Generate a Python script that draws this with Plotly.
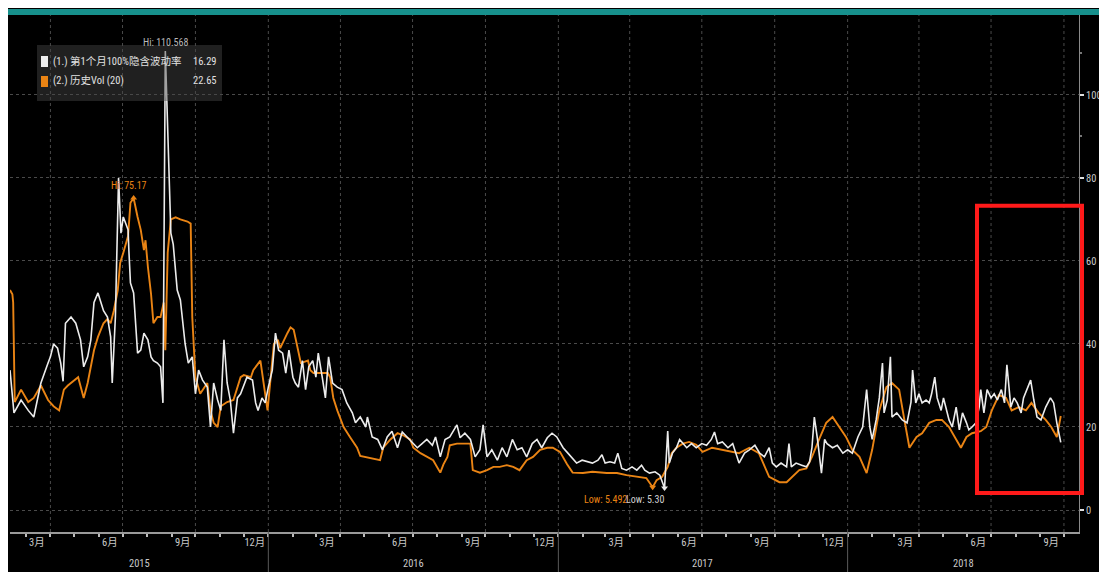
import plotly.graph_objects as go
import pandas as pd

# ---------------- data ----------------
iv_name = "(1.) 第1个月100%隐含波动率"
hv_name = "(2.) 历史Vol (20)"
iv_last = "16.29"
hv_last = "22.65"

iv_dates = [
 "2015-02-09","2015-02-14","2015-02-23","2015-03-04","2015-03-11","2015-03-20","2015-03-29","2015-04-01","2015-04-05","2015-04-10",
 "2015-04-14","2015-04-17","2015-04-20","2015-04-27","2015-05-03","2015-05-09","2015-05-13","2015-05-18","2015-05-22","2015-05-26",
 "2015-05-31","2015-06-04","2015-06-07","2015-06-12","2015-06-16","2015-06-18","2015-06-22","2015-06-26","2015-06-29","2015-07-02",
 "2015-07-08","2015-07-09","2015-07-11","2015-07-15","2015-07-18","2015-07-20","2015-07-24","2015-07-28","2015-08-02","2015-08-06",
 "2015-08-09","2015-08-14","2015-08-18","2015-08-21","2015-08-24","2015-08-31","2015-09-03","2015-09-08","2015-09-12","2015-09-16",
 "2015-09-18","2015-09-22","2015-09-27","2015-10-01","2015-10-05","2015-10-10","2015-10-16","2015-10-20","2015-10-24","2015-10-29",
 "2015-11-02","2015-11-06","2015-11-10","2015-11-14","2015-11-18","2015-11-23","2015-11-27","2015-12-05","2015-12-12","2015-12-16",
 "2015-12-19","2015-12-24","2015-12-28","2016-01-01","2016-01-06","2016-01-10","2016-01-14","2016-01-19","2016-01-23","2016-01-27",
 "2016-02-01","2016-02-04","2016-02-08","2016-02-13","2016-02-17","2016-02-21","2016-02-26","2016-03-01","2016-03-04","2016-03-09",
 "2016-03-13","2016-03-17","2016-03-22","2016-03-28","2016-04-03","2016-04-09","2016-04-16","2016-04-20","2016-04-26","2016-05-03",
 "2016-05-05","2016-05-11","2016-05-18","2016-05-24","2016-05-30","2016-06-05","2016-06-12","2016-06-18","2016-06-24","2016-07-01",
 "2016-07-07","2016-07-13","2016-07-19","2016-07-26","2016-07-30","2016-08-05","2016-08-11","2016-08-17","2016-08-21","2016-08-26",
 "2016-08-30","2016-09-05","2016-09-12","2016-09-18","2016-09-24","2016-09-28","2016-10-03","2016-10-09","2016-10-16","2016-10-22",
 "2016-10-28","2016-11-04","2016-11-10","2016-11-16","2016-11-22","2016-11-29","2016-12-05","2016-12-11","2016-12-18","2016-12-24",
 "2016-12-30","2017-01-07","2017-01-13","2017-01-19","2017-01-24","2017-01-31","2017-02-06","2017-02-13","2017-02-20","2017-02-25",
 "2017-03-01","2017-03-07","2017-03-13","2017-03-17","2017-03-22","2017-03-28","2017-04-04","2017-04-10","2017-04-16","2017-04-20",
 "2017-04-26","2017-05-03","2017-05-09","2017-05-15","2017-05-19","2017-05-21","2017-05-25","2017-05-30","2017-06-03","2017-06-12",
 "2017-06-18","2017-06-24","2017-07-01","2017-07-07","2017-07-13","2017-07-17","2017-07-21","2017-07-27","2017-08-03","2017-08-09",
 "2017-08-17","2017-08-24","2017-08-30","2017-09-06","2017-09-12","2017-09-18","2017-09-24","2017-09-28","2017-10-03","2017-10-09",
 "2017-10-16","2017-10-19","2017-10-22","2017-10-28","2017-11-04","2017-11-10","2017-11-14","2017-11-17","2017-11-20","2017-11-24",
 "2017-11-29","2017-12-03","2017-12-06","2017-12-13","2017-12-19","2017-12-26","2018-01-01","2018-01-07","2018-01-14","2018-01-20",
 "2018-01-25","2018-01-29","2018-02-01","2018-02-06","2018-02-10","2018-02-14","2018-02-16","2018-02-20","2018-02-24","2018-02-26",
 "2018-03-04","2018-03-11","2018-03-17","2018-03-22","2018-03-24","2018-03-28","2018-04-01","2018-04-05","2018-04-10","2018-04-14",
 "2018-04-17","2018-04-21","2018-04-24","2018-04-29","2018-05-02","2018-05-05","2018-05-09","2018-05-13","2018-05-18","2018-05-22",
 "2018-05-26","2018-05-31","2018-06-03","2018-06-07","2018-06-12","2018-06-16","2018-06-18","2018-06-22","2018-06-26","2018-07-01",
 "2018-07-05","2018-07-09","2018-07-14","2018-07-18","2018-07-21","2018-07-26","2018-07-30","2018-08-03","2018-08-08","2018-08-11",
 "2018-08-15","2018-08-20","2018-08-24","2018-08-28","2018-09-02","2018-09-08","2018-09-14","2018-09-18","2018-09-22","2018-09-27",
]
iv_values = [
 33.7,23.4,26.5,24.0,22.4,30.6,35.4,36.9,40.0,39.0,
 35.4,31.0,45.0,46.5,45.0,41.0,34.5,36.9,41.0,50.0,
 52.3,50.0,48.0,46.5,41.7,30.6,46.5,80.0,66.7,70.6,
 67.5,62.6,54.7,52.3,41.7,37.8,38.5,42.6,41.0,36.9,
 36.0,35.4,34.5,25.8,110.568,66.7,64.0,53.0,50.6,43.4,
 40.0,35.4,36.9,28.0,33.7,31.3,29.6,20.0,30.6,26.5,
 24.0,41.0,30.6,26.5,18.5,27.0,28.0,32.0,31.3,25.8,
 24.0,27.0,25.8,29.6,33.7,42.6,38.5,37.8,33.0,38.5,
 32.0,30.6,29.6,36.0,29.0,34.5,36.0,32.0,37.8,32.0,
 27.0,36.9,30.6,29.6,29.0,25.8,23.4,21.0,22.4,20.0,
 22.4,17.6,17.0,14.5,17.6,19.0,15.0,18.8,17.6,16.0,
 15.0,16.0,17.0,15.6,17.6,12.8,17.0,17.6,19.0,20.5,
 17.4,18.5,17.0,12.8,14.5,20.5,12.8,14.5,12.0,15.0,
 12.8,17.0,14.5,15.0,12.8,16.0,17.0,15.0,17.4,18.5,
 17.6,15.0,13.7,12.5,11.3,12.0,11.6,11.3,12.0,13.3,
 11.3,11.6,11.3,13.7,10.0,9.6,10.4,9.6,10.8,9.6,
 8.9,9.2,8.4,5.30,19.0,11.3,13.7,15.0,17.0,15.0,
 16.0,15.0,16.0,15.6,17.0,18.8,16.0,16.4,15.0,16.0,
 11.3,13.7,14.5,15.6,13.7,12.8,15.0,11.3,10.4,11.3,
 10.4,16.0,10.4,11.3,10.8,10.4,11.6,15.0,22.4,17.0,
 8.9,17.0,16.0,15.0,15.6,13.7,14.5,13.7,17.6,20.0,
 29.0,20.0,17.0,21.7,27.0,35.4,23.4,26.5,36.9,22.4,
 23.4,21.7,21.0,26.0,33.7,25.8,28.0,25.8,26.5,25.8,
 28.0,32.0,27.0,24.0,27.0,24.8,21.7,20.0,24.8,19.3,
 23.4,21.0,19.3,20.0,21.0,24.8,29.0,23.4,29.0,27.0,
 28.0,26.5,29.0,25.8,35.0,24.8,27.0,25.8,23.4,27.0,
 29.0,31.3,26.5,22.4,21.7,24.8,27.0,25.8,21.0,16.29,
]

hv_dates = [
 "2015-02-09","2015-02-12","2015-02-13","2015-02-15","2015-02-23","2015-03-04","2015-03-11","2015-03-20","2015-03-29","2015-04-05",
 "2015-04-12","2015-04-18","2015-04-23","2015-04-30","2015-05-06","2015-05-13","2015-05-18","2015-05-26","2015-05-31","2015-06-07",
 "2015-06-12","2015-06-16","2015-06-20","2015-06-25","2015-06-28","2015-07-02","2015-07-08","2015-07-11","2015-07-15","2015-07-20",
 "2015-07-24","2015-07-28","2015-07-30","2015-08-02","2015-08-06","2015-08-09","2015-08-14","2015-08-18","2015-08-22","2015-08-24",
 "2015-08-27","2015-08-31","2015-09-06","2015-09-12","2015-09-21","2015-09-25","2015-09-27","2015-10-01","2015-10-04","2015-10-07",
 "2015-10-16","2015-10-20","2015-10-24","2015-10-29","2015-11-02","2015-11-10","2015-11-18","2015-11-27","2015-12-01","2015-12-10",
 "2015-12-13","2015-12-22","2015-12-26","2015-12-31","2016-01-04","2016-01-08","2016-01-13","2016-01-16","2016-01-25","2016-01-29",
 "2016-02-02","2016-02-07","2016-02-11","2016-02-20","2016-02-23","2016-02-27","2016-03-07","2016-03-16","2016-03-19","2016-03-23",
 "2016-03-28","2016-04-05","2016-04-13","2016-04-22","2016-04-26","2016-05-08","2016-05-21","2016-05-25","2016-06-03","2016-06-12",
 "2016-06-19","2016-06-28","2016-07-02","2016-07-11","2016-07-19","2016-07-27","2016-08-05","2016-08-09","2016-08-14","2016-08-17",
 "2016-08-26","2016-09-03","2016-09-12","2016-09-15","2016-09-24","2016-10-03","2016-10-11","2016-10-19","2016-10-28","2016-11-05",
 "2016-11-13","2016-11-22","2016-11-30","2016-12-09","2016-12-18","2016-12-25","2017-01-03","2017-01-12","2017-01-19","2017-02-01",
 "2017-02-13","2017-03-03","2017-03-16","2017-03-28","2017-04-10","2017-04-22","2017-04-30","2017-05-05","2017-05-12","2017-05-19",
 "2017-05-24","2017-05-30","2017-06-07","2017-06-15","2017-06-24","2017-07-02","2017-07-14","2017-07-27","2017-08-09","2017-08-17",
 "2017-08-30","2017-09-11","2017-09-24","2017-10-07","2017-10-16","2017-10-23","2017-11-01","2017-11-10","2017-11-17","2017-11-26",
 "2017-12-05","2017-12-13","2017-12-21","2017-12-30","2018-01-07","2018-01-16","2018-01-25","2018-02-01","2018-02-10","2018-02-19",
 "2018-02-26","2018-03-07","2018-03-13","2018-03-20","2018-03-29","2018-04-05","2018-04-14","2018-04-23","2018-04-30","2018-05-09",
 "2018-05-18","2018-05-24","2018-05-31","2018-06-07","2018-06-18","2018-06-25","2018-07-02","2018-07-11","2018-07-20","2018-07-27",
 "2018-08-05","2018-08-14","2018-08-21","2018-08-30","2018-09-08","2018-09-15","2018-09-22","2018-09-27",
]
hv_values = [
 53.0,52.0,50.0,26.0,29.0,26.0,27.0,30.0,26.5,25.0,
 24.0,29.0,30.0,31.0,32.0,27.0,30.6,38.5,41.7,45.0,
 46.0,45.0,48.0,53.0,59.5,62.0,66.0,74.0,75.17,70.6,
 67.5,62.6,65.0,58.6,52.0,45.0,46.5,46.5,50.0,38.5,
 62.0,70.0,70.5,70.0,69.5,69.0,46.5,32.0,30.0,28.0,
 30.6,24.0,21.0,20.0,25.0,26.0,26.5,32.0,32.5,32.0,
 33.7,36.0,30.6,24.0,32.0,40.0,41.0,39.0,42.6,44.0,
 43.4,38.5,35.4,36.0,33.7,33.0,33.0,33.0,32.0,27.0,
 24.0,20.0,17.6,15.0,13.0,12.5,12.0,15.0,17.0,18.5,
 18.0,17.0,15.0,13.7,12.8,12.0,9.0,11.0,12.8,15.6,
 16.0,16.0,16.0,9.6,9.0,9.6,10.4,10.4,10.8,10.4,
 9.6,12.0,12.8,14.5,15.0,15.0,14.0,11.0,9.0,8.9,
 9.2,8.9,8.9,8.4,8.0,7.7,5.492,7.2,8.0,10.4,
 13.7,15.0,16.0,16.4,15.7,14.0,15.0,14.5,14.0,13.7,
 15.0,13.7,8.0,6.7,6.7,8.0,9.6,10.0,12.8,17.0,
 21.0,22.4,20.0,17.6,14.5,12.8,8.9,14.5,24.0,29.6,
 30.6,29.0,22.4,15.0,17.6,18.5,21.0,21.7,21.7,20.0,
 17.0,15.0,17.6,18.5,19.0,20.0,24.0,27.7,27.0,24.0,
 24.8,24.0,25.8,23.4,21.7,20.0,17.6,22.65,
]

month_labels = ["3月", "6月", "9月", "12月"]
year_labels = ["2015", "2016", "2017", "2018"]
y_ticks = [0, 20, 40, 60, 80, 100]
x_start, x_end = "2015-02-09", "2018-10-20"
y_lo, y_hi = -5.3, 119.5

# ---------------- styling ----------------
# the page body adds an 8px offset; work in window-pixel coordinates
OFF = 8
W, H = 1107 - OFF, 572 - OFF
L, R, T, B = 10 - OFF, 1107 - 1079, 14 - OFF, 572 - 532
PW, PH = W - L - R, H - T - B
def px(sx):  # window pixel x -> paper x
    return (sx - OFF - L) / PW
def py(sy):  # window pixel y -> paper y
    return (H - B - (sy - OFF)) / PH

FONT = "Liberation Sans Narrow, Arial Narrow, Roboto Condensed, Noto Sans CJK SC, sans-serif"
WHITE = "#ececec"
ORANGE = "#ea8414"
GRID = "#4a4a4a"
TXT = "#c8c8c8"

fig = go.Figure()
fig.add_trace(go.Scatter(x=pd.to_datetime(hv_dates), y=hv_values, mode="lines",
                         line=dict(color=ORANGE, width=1.9), name=hv_name, hoverinfo="skip"))
fig.add_trace(go.Scatter(x=pd.to_datetime(iv_dates), y=iv_values, mode="lines",
                         line=dict(color=WHITE, width=1.6), name=iv_name, hoverinfo="skip"))

# hi / low markers from the data
def extreme(dates, vals, fn):
    i = vals.index(fn(vals))
    return dates[i], vals[i]
iv_hi = extreme(iv_dates, iv_values, max)
iv_lo = extreme(iv_dates, iv_values, min)
hv_hi = extreme(hv_dates, hv_values, max)
hv_lo = extreme(hv_dates, hv_values, min)
fig.add_trace(go.Scatter(x=[hv_hi[0], hv_lo[0]], y=[hv_hi[1], hv_lo[1]], mode="markers",
                         marker=dict(color=ORANGE, size=6, symbol=["triangle-up", "triangle-down"]),
                         hoverinfo="skip"))
fig.add_trace(go.Scatter(x=[iv_lo[0]], y=[iv_lo[1]], mode="markers",
                         marker=dict(color=WHITE, size=6, symbol="triangle-down"), hoverinfo="skip"))

shapes = []
# teal title bar
shapes.append(dict(type="rect", xref="paper", yref="paper", x0=px(8), x1=px(1107), y0=py(15), y1=py(9),
                   fillcolor="#17908c", line=dict(width=0), layer="above"))
# quarterly vertical grid
for d in pd.date_range("2015-04-01", x_end, freq="QS"):
    shapes.append(dict(type="line", xref="x", yref="paper", x0=d, x1=d, y0=0, y1=1,
                       line=dict(color=GRID, width=1, dash="dot"), layer="below"))
# year separators below axis
for d in pd.date_range("2016-01-01", x_end, freq="YS"):
    shapes.append(dict(type="line", xref="x", yref="paper", x0=d, x1=d, y0=py(572), y1=0,
                       line=dict(color="#5a5a5a", width=1)))
# red highlight box
shapes.append(dict(type="rect", xref="paper", yref="y", x0=px(977), x1=px(1082), y0=4.1, y1=73.3,
                   line=dict(color="#ff1a1a", width=4), fillcolor="rgba(0,0,0,0)"))
# legend box
shapes.append(dict(type="rect", xref="paper", yref="paper", x0=px(37), x1=px(222), y0=py(101), y1=py(45),
                   fillcolor="rgba(70,70,70,0.45)", line=dict(width=0)))
shapes.append(dict(type="rect", xref="paper", yref="paper", x0=px(41), x1=px(48), y0=py(67), y1=py(56),
                   fillcolor=WHITE, line=dict(width=0)))
shapes.append(dict(type="rect", xref="paper", yref="paper", x0=px(41), x1=px(48), y0=py(87), y1=py(76),
                   fillcolor=ORANGE, line=dict(width=0)))

ann = []
ann.append(dict(xref="paper", yref="paper", x=px(51), y=py(61), text=iv_name, showarrow=False,
                xanchor="left", yanchor="middle", font=dict(size=10.5, color="#e0e0e0", family=FONT)))
ann.append(dict(xref="paper", yref="paper", x=px(219), y=py(61), text=iv_last, showarrow=False,
                xanchor="right", yanchor="middle", font=dict(size=10.5, color="#e0e0e0", family=FONT)))
ann.append(dict(xref="paper", yref="paper", x=px(51), y=py(81), text=hv_name, showarrow=False,
                xanchor="left", yanchor="middle", font=dict(size=10.5, color="#e0e0e0", family=FONT)))
ann.append(dict(xref="paper", yref="paper", x=px(219), y=py(81), text=hv_last, showarrow=False,
                xanchor="right", yanchor="middle", font=dict(size=10.5, color="#e0e0e0", family=FONT)))
# hi / low labels
ann.append(dict(x=iv_hi[0], y=iv_hi[1], text=f"Hi: {iv_hi[1]:g}", showarrow=False, yshift=9,
                font=dict(size=10, color="#b8b8b8", family=FONT)))
ann.append(dict(x=hv_hi[0], y=hv_hi[1], text=f"Hi: {hv_hi[1]:.2f}", showarrow=False, yshift=13, xshift=-5,
                font=dict(size=10, color=ORANGE, family=FONT)))
ann.append(dict(x=hv_lo[0], y=hv_lo[1], text=f"Low: {hv_lo[1]:g}", showarrow=False, yshift=-12, xshift=-24,
                xanchor="right", font=dict(size=10, color=ORANGE, family=FONT)))
ann.append(dict(x=iv_lo[0], y=iv_lo[1], text=f"Low: {iv_lo[1]:.2f}", showarrow=False, yshift=-11, xshift=1,
                xanchor="right", font=dict(size=10, color="#d0d0d0", family=FONT)))
# year labels centred in visible part of each year
xs, xe = pd.Timestamp(x_start), pd.Timestamp(x_end)
for yl in year_labels:
    a = max(pd.Timestamp(f"{yl}-01-01"), xs)
    b = min(pd.Timestamp(f"{int(yl)+1}-01-01"), xe)
    ann.append(dict(xref="x", yref="paper", x=a + (b - a) / 2, y=py(563), text=yl, showarrow=False,
                    yanchor="middle", font=dict(size=10.5, color=TXT, family=FONT)))

# month tick labels at mid-month
tickv, tickt = [], []
for d in pd.date_range("2015-03-01", x_end, freq="MS"):
    lab = f"{d.month}月"
    if lab in month_labels:
        tickv.append(d + pd.Timedelta(days=14))
        tickt.append(lab)

fig.update_layout(
    width=W, height=H, margin=dict(l=L, r=R, t=T, b=B),
    paper_bgcolor="black", plot_bgcolor="black", showlegend=False,
    shapes=shapes, annotations=ann,
    font=dict(family=FONT, color=TXT),
    xaxis=dict(type="date", range=[x_start, x_end], showgrid=False, zeroline=False,
               tickmode="array", tickvals=tickv, ticktext=tickt, ticks="",
               tickfont=dict(size=10.5, color=TXT, family=FONT),
               showline=True, linecolor="#9a9a9a", linewidth=1.5,
               minor=dict(ticks="outside", ticklen=3, tickcolor="#bbbbbb", tickwidth=2,
                          dtick="M1", tick0="2015-01-01", showgrid=False)),
    yaxis=dict(side="right", range=[y_lo, y_hi], tickmode="array", tickvals=y_ticks,
               showgrid=True, gridcolor=GRID, griddash="dot", gridwidth=1, zeroline=False,
               ticks="outside", ticklen=4, tickwidth=2, tickcolor="#e0e0e0",
               tickfont=dict(size=10.5, color=TXT, family=FONT),
               showline=True, linecolor="#8a8a8a", linewidth=1,
               minor=dict(ticks="outside", ticklen=2, tickcolor="#777777", dtick=10, tick0=0, showgrid=False)),
)
fig.write_html("out.html", config={"displayModeBar": False})
